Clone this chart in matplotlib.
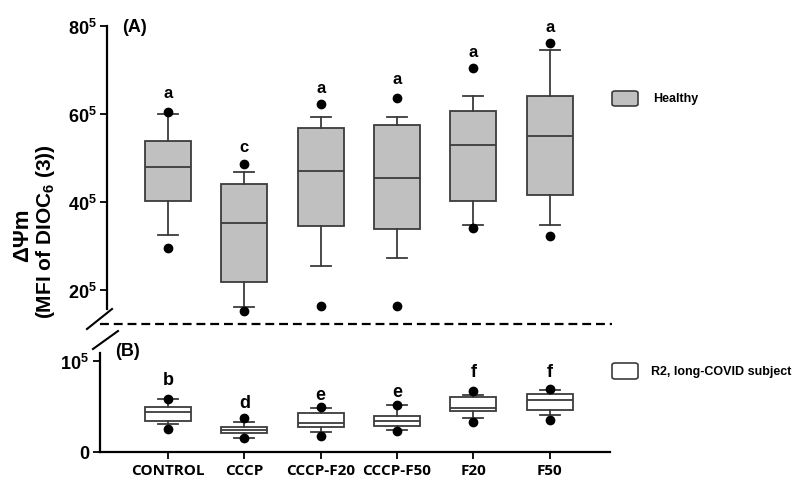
import matplotlib
matplotlib.use("Agg")
import matplotlib.pyplot as plt
from matplotlib.patches import FancyBboxPatch
from matplotlib.lines import Line2D

plt.rcParams['font.family'] = ['Liberation Sans', 'DejaVu Sans']
plt.rcParams['font.weight'] = 'bold'
plt.rcParams['mathtext.fontset'] = 'custom'
plt.rcParams['mathtext.rm'] = 'Liberation Sans:bold'
plt.rcParams['mathtext.bf'] = 'Liberation Sans:bold'
plt.rcParams['mathtext.default'] = 'bf'

# ---- data (units of 10^5) ----
groups = ["CONTROL", "CCCP", "CCCP-F20", "CCCP-F50", "F20", "F50"]

# (A) Healthy
h_whislo = [32.5, 16.1, 25.4, 27.3, 34.8, 34.8]
h_q1 = [40.2, 21.8, 34.5, 33.9, 40.2, 41.6]
h_med = [48.0, 35.2, 47.0, 45.5, 53.0, 55.0]
h_q3 = [53.9, 44.1, 56.8, 57.5, 60.7, 64.1]
h_whishi = [60.0, 46.8, 59.3, 59.3, 64.1, 74.5]
h_fliers = [[29.5, 60.5], [15.2, 48.6], [16.4, 62.3], [16.4, 63.6], [34.1, 70.4], [32.3, 76.1]]
h_letters = ["a", "c", "a", "a", "a", "a"]
h_letter_y = [65.0, 52.5, 66.0, 68.0, 74.3, 80.0]

# (B) R2, long-COVID subject
r_whislo = [3.1, 1.5, 2.2, 2.4, 3.7, 4.1]
r_q1 = [3.4, 2.1, 2.75, 2.85, 4.5, 4.6]
r_med = [4.4, 2.4, 3.2, 3.4, 4.85, 5.7]
r_q3 = [4.95, 2.75, 4.3, 4.0, 6.0, 6.4]
r_whishi = [5.8, 3.3, 4.8, 5.2, 6.3, 6.8]
r_fliers = [[2.5, 5.8], [1.5, 3.7], [1.75, 4.95], [2.3, 5.2], [3.3, 6.7], [3.5, 6.9]]
r_letters = ["b", "d", "e", "e", "f", "f"]
r_letter_y = [8.0, 5.4, 6.3, 6.7, 8.8, 8.8]

top_ticks = [20, 40, 60, 80]
top_ticklabels = [r"20$^5$", r"40$^5$", r"60$^5$", r"80$^5$"]
bot_ticks = [0, 10]
bot_ticklabels = ["0", r"10$^5$"]

W, H = 799, 485
fig = plt.figure(figsize=(W / 100, H / 100), dpi=100)


def fx(px):
    return px / W


def fy(py):
    return 1 - py / H


edge = "#3c3c3c"
xpos = list(range(len(groups)))


def stats(whislo, q1, med, q3, whishi, fliers):
    out = []
    for i in range(len(med)):
        out.append(dict(whislo=whislo[i], q1=q1[i], med=med[i], q3=q3[i],
                        whishi=whishi[i], fliers=fliers[i]))
    return out


def draw_boxes(ax, st, face):
    ax.bxp(st, positions=xpos, widths=0.6, patch_artist=True, showfliers=True,
           boxprops=dict(facecolor=face, edgecolor=edge, linewidth=1.3),
           medianprops=dict(color=edge, linewidth=1.3),
           whiskerprops=dict(color=edge, linewidth=1.3),
           capprops=dict(color=edge, linewidth=1.3),
           capwidths=0.26,
           flierprops=dict(marker="o", markerfacecolor="black", markeredgecolor="black",
                           markersize=6, clip_on=False))


# ---- top panel (A) ----
axA = fig.add_axes([fx(107), fy(310), fx(610) - fx(107), fy(27) - fy(310)])
draw_boxes(axA, stats(h_whislo, h_q1, h_med, h_q3, h_whishi, h_fliers), "#c0c0c0")
axA.set_xlim(-0.80, 5.79)
axA.set_ylim(60 - (310 - 115) * 20 / 88, 80)
for s in ["top", "right", "bottom"]:
    axA.spines[s].set_visible(False)
axA.spines["left"].set_linewidth(1.6)
axA.set_xticks([])
axA.set_yticks(top_ticks)
axA.set_yticklabels(top_ticklabels, fontsize=13, fontweight="bold")
axA.tick_params(axis="y", length=5, width=1.3, pad=2)
for i, t in enumerate(h_letters):
    axA.text(xpos[i], h_letter_y[i], t, ha="center", va="center", fontsize=12, fontweight="bold",
             clip_on=False)
axA.text(0.03, 1.0, "(A)", transform=axA.transAxes, fontsize=13, fontweight="bold",
         ha="left", va="center")

# ---- bottom panel (B) ----
axB = fig.add_axes([fx(100), fy(453), fx(610) - fx(100), fy(354) - fy(453)])
draw_boxes(axB, stats(r_whislo, r_q1, r_med, r_q3, r_whishi, r_fliers), "white")
axB.set_xlim(-0.89, 5.79)
axB.set_ylim(0, (453 - 354) * 10 / 91)
for s in ["top", "right"]:
    axB.spines[s].set_visible(False)
axB.spines["left"].set_linewidth(1.6)
axB.spines["bottom"].set_linewidth(1.6)
axB.set_xticks(xpos)
axB.set_xticklabels(groups, fontsize=11, fontweight="bold", family=["Open Sans", "DejaVu Sans"])
axB.set_yticks(bot_ticks)
axB.set_yticklabels(bot_ticklabels, fontsize=13, fontweight="bold")
axB.tick_params(axis="both", length=5, width=1.3, pad=3)
for i, t in enumerate(r_letters):
    axB.text(xpos[i], r_letter_y[i], t, ha="center", va="center", fontsize=13, fontweight="bold",
             clip_on=False)
axB.text(fx(115), fy(352), "(B)", transform=fig.transFigure, fontsize=13, fontweight="bold",
         ha="left", va="center")

# ---- axis break and dashed separator ----
fig.add_artist(Line2D([fx(100), fx(612)], [fy(325), fy(325)], color="black", lw=1.6,
                      linestyle=(0, (4, 2.2))))
fig.add_artist(Line2D([fx(87), fx(112)], [fy(330), fy(310)], color="black", lw=1.5))
fig.add_artist(Line2D([fx(93), fx(118)], [fy(350), fy(332)], color="black", lw=1.5))

# ---- y label ----
fig.text(fx(23), fy(235), "\u0394\u03a8m", rotation=90, ha="center", va="center",
         fontsize=16, fontweight="bold")
fig.text(fx(46), fy(232), r"(MFI of DIOC$_6$ (3))", rotation=90, ha="center", va="center",
         fontsize=15, fontweight="bold")

# ---- legends ----
fig.add_artist(FancyBboxPatch((fx(612), fy(107)), fx(638) - fx(612), fy(92) - fy(107),
                              boxstyle="round,pad=0,rounding_size=0.004",
                              transform=fig.transFigure, facecolor="#c0c0c0",
                              edgecolor=edge, lw=1.2))
fig.text(fx(653), fy(99), "Healthy", ha="left", va="center", fontsize=9, fontweight="bold")
fig.add_artist(FancyBboxPatch((fx(612), fy(380)), fx(638) - fx(612), fy(364) - fy(380),
                              boxstyle="round,pad=0,rounding_size=0.004",
                              transform=fig.transFigure, facecolor="white",
                              edgecolor=edge, lw=1.2))
fig.text(fx(651), fy(372), "R2, long-COVID subject", ha="left", va="center", fontsize=9,
         fontweight="bold")

fig.savefig("out.png", dpi=100)
